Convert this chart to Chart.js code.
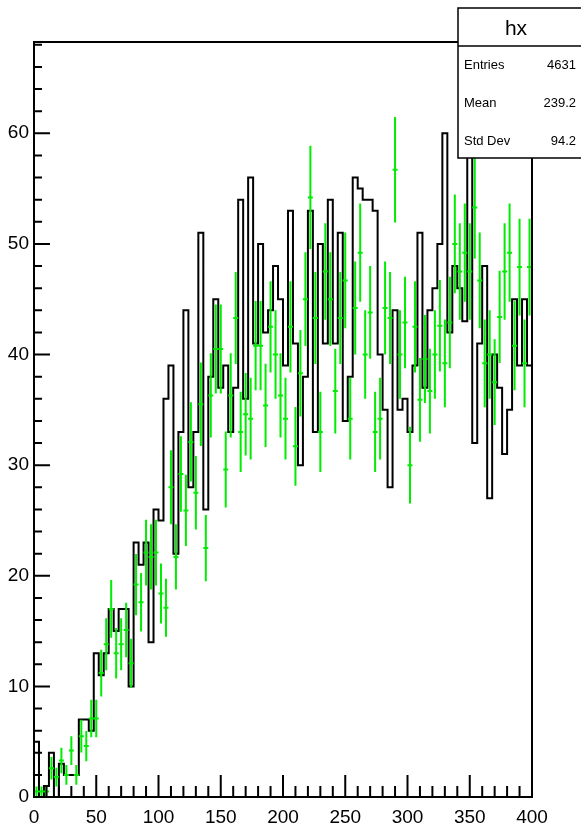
<!DOCTYPE html>
<html><head><meta charset="utf-8">
<script src="https://cdn.jsdelivr.net/npm/chart.js@4.4.1/dist/chart.umd.min.js"></script>
<style>html,body{margin:0;padding:0;background:#fff;}#wrap{width:581px;height:830px;position:relative;}</style>
</head><body><div id="wrap"><canvas id="c" width="581" height="830"></canvas></div>
<script>
// ---- data ----
const BIN_MIN = 0, BIN_WIDTH = 4;
const histCounts = [
  5,0,1,4,0,3,2,2,2,7,
  7,6,13,11,13,17,15,17,17,10,
  23,21,23,14,26,25,36,39,22,33,
  44,28,33,51,26,38,45,37,39,33,
  37,54,36,56,41,50,42,44,48,45,
  39,53,41,30,38,53,33,50,41,54,
  41,51,34,38,56,55,54,54,53,40,
  35,28,44,35,36,33,39,51,37,44,
  46,50,60,42,48,46,43,65,32,41,
  48,27,40,37,31,35,45,39,45,39
];
const greenValues = [
  0.5,0.5,0.5,2.6,1.8,3.3,2.0,4.2,2.0,5.5,
  4.6,7.1,7.1,11.2,13.8,17.0,13.0,13.8,15.1,12.1,
  19.2,17.6,22.1,21.7,22.1,18.4,17.1,28.0,21.7,29.2,
  25.9,32.1,27.5,35.5,22.5,36.3,40.5,40.5,29.6,36.3,
  43.3,33.0,34.6,34.2,40.8,40.8,35.4,42.5,40.0,36.3,
  34.2,42.5,31.7,38.3,45.0,54.2,43.3,33.0,47.5,45.0,
  36.7,43.3,46.7,34.2,44.2,49.2,40.0,43.8,33.0,34.2,
  44.2,43.3,56.7,40.0,42.9,30.0,42.5,35.9,39.6,36.7,
  40.0,42.6,39.2,42.9,50.0,47.5,49.2,47.5,53.3,46.7,
  39.2,40.0,37.5,43.4,47.5,49.2,40.8,47.9,39.2,47.9
];
const greenErrors = [
  0.45,0.45,0.45,1.02,0.85,1.15,0.89,1.30,0.89,1.48,
  1.36,1.69,1.69,2.12,2.35,2.61,2.28,2.35,2.46,2.20,
  2.77,2.65,2.97,2.95,2.97,2.71,2.62,3.35,2.95,3.42,
  3.22,3.58,3.32,3.77,3.00,3.81,4.02,4.02,3.44,3.81,
  4.16,3.63,3.72,3.70,4.04,4.04,3.76,4.12,4.00,3.81,
  3.70,4.12,3.56,3.91,4.24,4.66,4.16,3.63,4.36,4.24,
  3.83,4.16,4.32,3.70,4.20,4.44,4.00,4.19,3.63,3.70,
  4.20,4.16,4.76,4.00,4.14,3.46,4.12,3.79,3.98,3.83,
  4.00,4.13,3.96,4.14,4.47,4.36,4.44,4.36,4.62,4.32,
  3.96,4.00,3.87,4.17,4.36,4.44,4.04,4.38,3.96,4.38
];
const xTickLabels = [0,50,100,150,200,250,300,350,400];
const yTickLabels = [0,10,20,30,40,50,60];
const Y_MAX = 68.25;
const statsTitle = 'hx';
const statsRows = [['Entries','4631'],['Mean','239.2'],['Std Dev','94.2']];

const GREEN = '#00ec00';
const FONT = '"Liberation Sans", Arial, Helvetica, sans-serif';

const stepData = histCounts.map((v,i)=>({x: BIN_MIN + i*BIN_WIDTH, y: v}));
stepData.push({x: BIN_MIN + histCounts.length*BIN_WIDTH, y: histCounts[histCounts.length-1]});
const pointData = greenValues.map((v,i)=>({x: BIN_MIN + (i+0.5)*BIN_WIDTH, y: v, e: greenErrors[i]}));

const rootPlugin = {
  id: 'rootDecor',
  afterDatasetsDraw(chart) {
    const ctx = chart.ctx, ca = chart.chartArea;
    const xs = chart.scales.x, ys = chart.scales.y;
    // error bars
    ctx.save();
    ctx.beginPath(); ctx.rect(ca.left, ca.top, ca.right-ca.left, ca.bottom-ca.top); ctx.clip();
    ctx.strokeStyle = GREEN; ctx.lineWidth = 2;
    pointData.forEach(p=>{
      const px = xs.getPixelForValue(p.x);
      const py = ys.getPixelForValue(p.y);
      ctx.beginPath();
      ctx.moveTo(px, ys.getPixelForValue(p.y - p.e));
      ctx.lineTo(px, ys.getPixelForValue(p.y + p.e));
      ctx.moveTo(xs.getPixelForValue(p.x - BIN_WIDTH/2), py);
      ctx.lineTo(xs.getPixelForValue(p.x + BIN_WIDTH/2), py);
      ctx.stroke();
    });
    ctx.restore();
    // frame
    ctx.save();
    ctx.strokeStyle = '#000'; ctx.lineWidth = 2;
    ctx.strokeRect(ca.left, ca.top, ca.right-ca.left, ca.bottom-ca.top);
    // ticks inside
    ctx.beginPath();
    for (let k=0; k<xTickLabels.length; k++) {
      const v = xTickLabels[k];
      const px = xs.getPixelForValue(v);
      ctx.moveTo(px, ca.bottom); ctx.lineTo(px, ca.bottom-22);
      if (k < xTickLabels.length-1) {
        const step = (xTickLabels[k+1]-v)/5;
        for (let m=1; m<5; m++) {
          const mx = xs.getPixelForValue(v + m*step);
          ctx.moveTo(mx, ca.bottom); ctx.lineTo(mx, ca.bottom-11);
        }
      }
    }
    const yStep = yTickLabels[1]-yTickLabels[0];
    for (let v=yTickLabels[0]; v<=Y_MAX+1e-9; v+=yStep/5) {
      const py = ys.getPixelForValue(v);
      const major = Math.abs(v/yStep - Math.round(v/yStep)) < 1e-6;
      ctx.moveTo(ca.left, py); ctx.lineTo(ca.left + (major?16:8), py);
    }
    ctx.stroke();
    ctx.restore();
  },
  afterDraw(chart) {
    const ctx = chart.ctx;
    ctx.save();
    const bx = 458, by = 8, bw = 126, bh = 150;
    ctx.fillStyle = '#fff';
    ctx.fillRect(bx, by, bw, bh);
    ctx.strokeStyle = '#000'; ctx.lineWidth = 1.5;
    ctx.strokeRect(bx, by, bw, bh);
    ctx.beginPath(); ctx.moveTo(bx, 46); ctx.lineTo(bx+bw, 46); ctx.stroke();
    ctx.fillStyle = '#000';
    ctx.font = '21px ' + FONT;
    ctx.textAlign = 'center'; ctx.textBaseline = 'middle';
    ctx.fillText(statsTitle, 516, 29);
    ctx.font = '13px ' + FONT;
    const rowY = [65, 103, 141];
    statsRows.forEach((r,i)=>{
      ctx.textAlign = 'left'; ctx.fillText(r[0], 464, rowY[i]);
      ctx.textAlign = 'right'; ctx.fillText(r[1], 576, rowY[i]);
    });
    ctx.restore();
  }
};

new Chart(document.getElementById('c'), {
  type: 'scatter',
  data: {
    datasets: [
      { type: 'line', label: 'hist', data: stepData, stepped: 'before', borderColor: '#000', borderWidth: 2,
        pointRadius: 0, fill: false, tension: 0, order: 2 },
      { type: 'scatter', label: 'points', data: pointData, pointRadius: 0, borderColor: GREEN, backgroundColor: GREEN, order: 1 }
    ]
  },
  options: {
    responsive: false, animation: false, devicePixelRatio: 1,
    layout: { padding: { top: 42, right: 49, left: 0, bottom: 0 } },
    plugins: { legend: { display: false }, tooltip: { enabled: false }, title: { display: false } },
    scales: {
      x: {
        type: 'linear', min: BIN_MIN, max: BIN_MIN + histCounts.length*BIN_WIDTH,
        afterBuildTicks: s => { s.ticks = xTickLabels.map(v=>({value: v})); },
        afterFit: s => { s.height = 33; },
        grid: { display: false, drawTicks: false }, border: { display: false },
        ticks: { color: '#000', font: { family: FONT, size: 19 }, padding: 9, maxRotation: 0, autoSkip: false }
      },
      y: {
        type: 'linear', min: 0, max: Y_MAX,
        afterBuildTicks: s => { s.ticks = yTickLabels.map(v=>({value: v})); },
        afterFit: s => { s.width = 34; },
        grid: { display: false, drawTicks: false }, border: { display: false },
        ticks: { color: '#000', font: { family: FONT, size: 19 }, padding: 5, autoSkip: false }
      }
    }
  },
  plugins: [rootPlugin]
});
</script></body></html>
